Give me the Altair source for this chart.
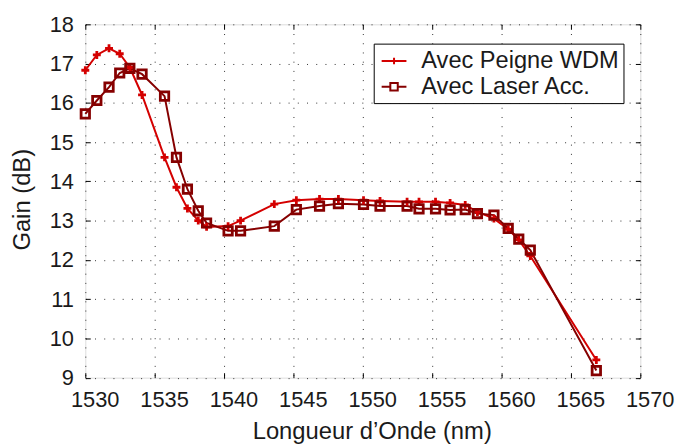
import altair as alt
import pandas as pd

# ---- data ----
wavelength = [1530.0, 1530.83, 1531.71, 1532.48, 1533.21, 1534.09, 1535.71, 1536.57,
              1537.36, 1538.14, 1538.74, 1540.29, 1541.19, 1543.62, 1545.21, 1546.88,
              1548.24, 1550.05, 1551.24, 1553.19, 1554.05, 1555.24, 1556.29, 1557.38,
              1558.26, 1559.45, 1560.48, 1561.24, 1562.07, 1566.83]
gain_wdm = [16.83, 17.22, 17.39, 17.25, 16.90, 16.20, 14.61, 13.85, 13.31, 13.00,
            12.84, 12.86, 13.00, 13.42, 13.52, 13.55, 13.55, 13.52, 13.50, 13.48,
            13.48, 13.48, 13.45, 13.40, 13.22, 13.05, 12.78, 12.51, 12.10, 9.45]
gain_laser = [15.72, 16.06, 16.40, 16.76, 16.88, 16.73, 16.17, 14.61, 13.80, 13.25,
              12.94, 12.74, 12.74, 12.86, 13.28, 13.37, 13.43, 13.41, 13.37, 13.37,
              13.30, 13.30, 13.27, 13.28, 13.18, 13.14, 12.80, 12.53, 12.25, 9.18]
series = ["Avec Peigne WDM", "Avec Laser Acc."]
colors = ["#d40000", "#860000"]
x_ticks = [1530, 1535, 1540, 1545, 1550, 1555, 1560, 1565, 1570]
y_ticks = [9, 10, 11, 12, 13, 14, 15, 16, 17, 18]

rows = []
for i, w in enumerate(wavelength):
    rows.append({"wl": w, "gain": gain_wdm[i], "series": series[0], "order": i})
    rows.append({"wl": w, "gain": gain_laser[i], "series": series[1], "order": i})
df = pd.DataFrame(rows)

FONT = "Liberation Sans"
W, H = 560, 356.5

xscale = alt.Scale(domain=[1530, 1570], nice=False, zero=False)
yscale = alt.Scale(domain=[9, 18], nice=False, zero=False)


def cscale():
    return alt.Scale(domain=series, range=colors)


tick_common = dict(domain=False, ticks=True, tickColor="black", tickSize=5,
                   tickWidth=1, offset=-5, labelOverlap=False, labelFlush=False)
grid_common = dict(grid=True, gridColor="#333333", gridDash=[1, 8.3], gridWidth=1)

x_axis = alt.Axis(orient="bottom", values=x_ticks, format="d", title="Longueur d’Onde (nm)",
                  labelFont=FONT, labelFontSize=22, labelColor="#1a1a1a",
                  labelPadding=12, labelOffset=9.5, titleFont=FONT, titleFontSize=24,
                  titleFontWeight="normal", titleColor="#1a1a1a",
                  titleX=289, titleY=66, titleBaseline="alphabetic",
                  titleAnchor="start", titleAlign="center", **grid_common, **tick_common)
y_axis = alt.Axis(orient="left", values=y_ticks, format="d", title="Gain (dB)",
                  labelFont=FONT, labelFontSize=22, labelColor="#1a1a1a",
                  labelPadding=12, titleFont=FONT, titleFontSize=24,
                  titleFontWeight="normal", titleColor="#1a1a1a",
                  titleAngle=270, titleX=-61, titleY=176.5,
                  titleBaseline="alphabetic", titleAlign="center", **grid_common, **tick_common)

base = alt.Chart(df)

lines = base.mark_line(strokeWidth=2).encode(
    x=alt.X("wl:Q", scale=xscale, axis=x_axis),
    y=alt.Y("gain:Q", scale=yscale, axis=y_axis),
    color=alt.Color("series:N", scale=cscale(), legend=None),
    detail="series:N",
    order="order:Q",
)

points = base.mark_point(filled=False, strokeWidth=2.8, opacity=1).encode(
    x=alt.X("wl:Q", scale=xscale, axis=None),
    y=alt.Y("gain:Q", scale=yscale, axis=None),
    color=alt.Color("series:N", scale=cscale(), legend=None),
    shape=alt.Shape("series:N", scale=alt.Scale(domain=series,
                    range=["M-1,0H1M0,-1V1", "square"]), legend=None),
    size=alt.Size("series:N", scale=alt.Scale(domain=series, range=[64, 72]), legend=None),
)

legend_layer = base.transform_filter("false").mark_point(filled=False, strokeWidth=2, opacity=1).encode(
    x=alt.X("wl:Q", scale=xscale, axis=None),
    y=alt.Y("gain:Q", scale=yscale, axis=None),
    color=alt.Color("series:N", scale=cscale(), legend=alt.Legend(
        orient="none", legendX=291, legendY=19.5, direction="vertical", title=None,
        fillColor="white", strokeColor="black", padding=4, symbolOffset=3,
        symbolSize=625, symbolStrokeWidth=2, labelFont=FONT, labelFontSize=23.8,
        labelColor="#1a1a1a", labelOffset=14, rowPadding=-4.5, labelLimit=400)),
    shape=alt.Shape("series:N", scale=alt.Scale(domain=series, range=[
        "M-1,0H1M0,-0.26V0.26M-0.26,0H0.26",
        "M-1,0H-0.3M0.3,0H1M-0.3,-0.3H0.3V0.3H-0.3Z"])),
)

frame_axes = base.transform_filter("false").mark_line().encode(
    x=alt.X("wl:Q", scale=xscale, axis=alt.Axis(orient="top", values=x_ticks, labels=False,
            title=None, grid=False, **tick_common)),
    y=alt.Y("gain:Q", scale=yscale, axis=alt.Axis(orient="right", values=y_ticks, labels=False,
            title=None, grid=False, **tick_common)),
)

chart = alt.layer(lines, points, legend_layer, frame_axes).resolve_scale(
    color="independent", shape="independent", size="independent"
).resolve_axis(x="independent", y="independent").properties(
    width=W, height=H,
    autosize=alt.AutoSizeParams(type="none"),
    padding={"left": 78, "top": 14.5, "right": 37, "bottom": 67},
).configure_view(stroke="black", strokeWidth=1.5).configure(background="white")

chart.save("out.html", embed_options={"renderer": "svg", "actions": False})
